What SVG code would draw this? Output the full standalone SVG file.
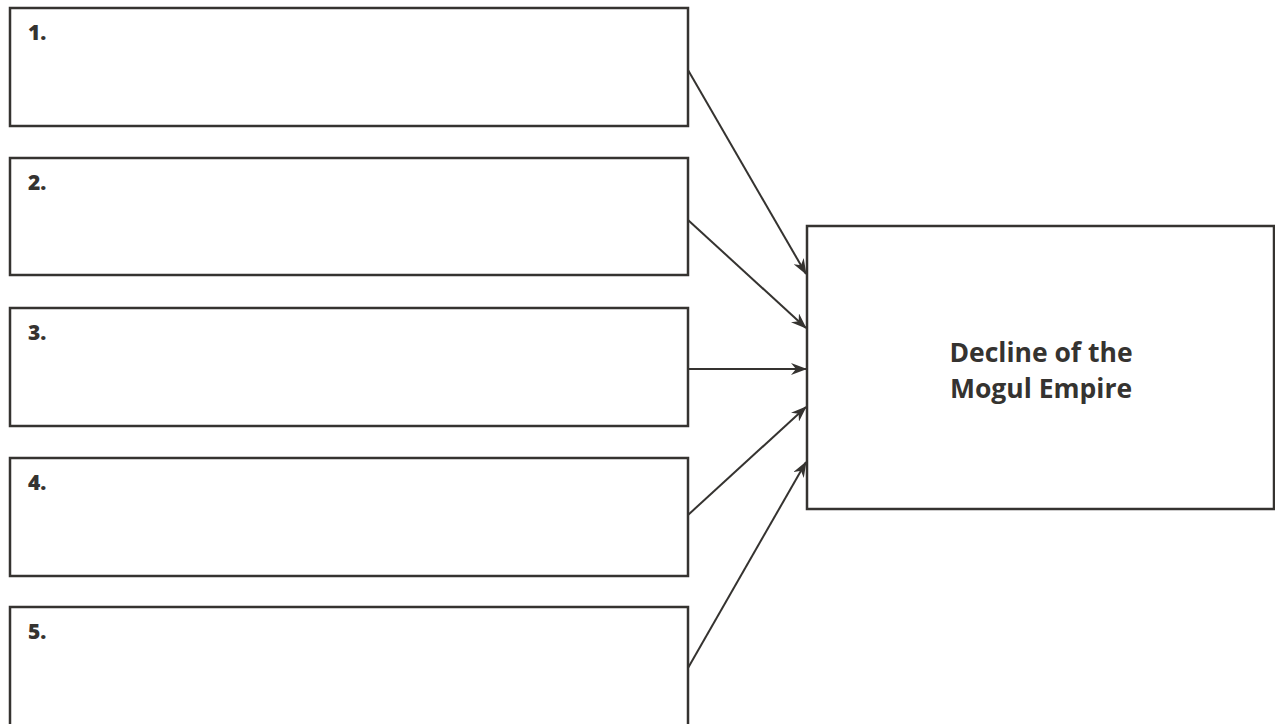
<svg xmlns="http://www.w3.org/2000/svg" width="1275" height="724" viewBox="0 0 1275 724">
<style>
.box{fill:#fff;stroke:#353330;stroke-width:2.5}
.num{font-family:"Open Sans","Noto Sans",sans-serif;font-weight:800;font-size:21px;fill:#353330}
.title{font-family:"Open Sans","Noto Sans",sans-serif;font-weight:bold;font-size:26.5px;fill:#353330;text-anchor:middle}
.conn{stroke:#353330;stroke-width:2;fill:none}
</style>
<defs>
<marker id="arr" viewBox="0 0 16 12" refX="15" refY="6" markerWidth="16" markerHeight="12" markerUnits="userSpaceOnUse" orient="auto">
<path d="M0,0 L16,6 L0,12 L5,6 Z" fill="#353330"/>
</marker>
</defs>
<rect width="1275" height="724" fill="#fff"/>
<g id="node1"><rect class="box" x="10" y="8" width="678" height="118"/><text class="num" x="28" y="40">1.</text></g>
<g id="node2"><rect class="box" x="10" y="158" width="678" height="117"/><text class="num" x="28" y="190">2.</text></g>
<g id="node3"><rect class="box" x="10" y="308" width="678" height="118"/><text class="num" x="28" y="340">3.</text></g>
<g id="node4"><rect class="box" x="10" y="458" width="678" height="118"/><text class="num" x="28" y="490">4.</text></g>
<g id="node5"><rect class="box" x="10" y="607" width="678" height="130"/><text class="num" x="28" y="639">5.</text></g>
<g id="target"><rect class="box" x="807" y="226" width="467" height="283"/>
<text class="title" x="1041" y="362">Decline of the</text>
<text class="title" x="1041" y="398">Mogul Empire</text></g>
<g id="connectors">
<line class="conn" x1="688" y1="70" x2="806" y2="274" marker-end="url(#arr)"/>
<line class="conn" x1="688" y1="220" x2="806" y2="328" marker-end="url(#arr)"/>
<line class="conn" x1="688" y1="369" x2="806" y2="369" marker-end="url(#arr)"/>
<line class="conn" x1="688" y1="515" x2="806" y2="407" marker-end="url(#arr)"/>
<line class="conn" x1="688" y1="668" x2="806" y2="462" marker-end="url(#arr)"/>
</g>
</svg>
